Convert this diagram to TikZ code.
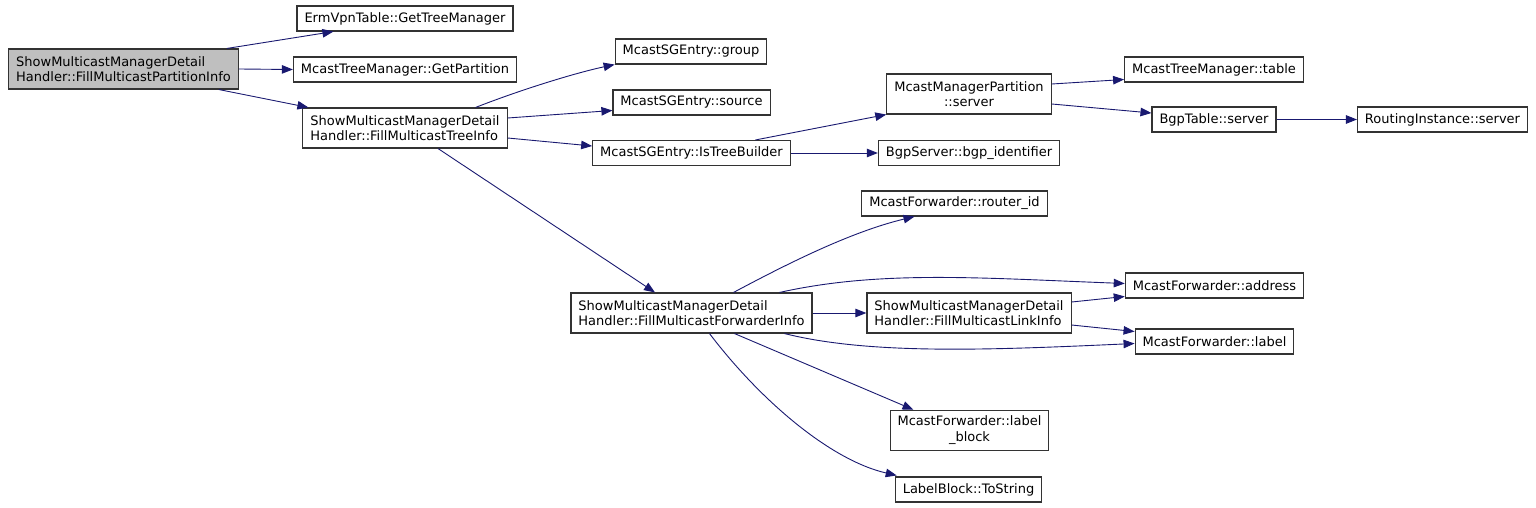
\documentclass[tikz,border=0pt]{standalone}
\usepackage{fontspec}
\setmainfont{DejaVu Sans}
\usetikzlibrary{arrows.meta,calc}
\definecolor{edgeblue}{HTML}{191970}
\definecolor{boxline}{HTML}{333333}
\definecolor{graybox}{HTML}{BFBFBF}
\begin{document}
\begin{tikzpicture}[x=1pt,y=-1pt,
  box/.style={draw=boxline,line width=1.1pt,fill=white,inner xsep=7.5pt,inner ysep=0pt,
    minimum height=25pt,align=center,font=\fontsize{13}{15.5}\selectfont},
  box2/.style={box,minimum height=40pt,align=left},
  edge/.style={draw=edgeblue,line width=0.9pt,-{Triangle[length=11pt,width=8.5pt]}}]
\useasboundingbox (0,0) rectangle (1536,508);
% nodes
\node[box2,fill=graybox] (A) at (123.5,69) {ShowMulticastManagerDetail\\Handler::FillMulticastPartitionInfo};
\node[box] (B) at (405,18.5) {ErmVpnTable::GetTreeManager};
\node[box] (C) at (405,69.5) {McastTreeManager::GetPartition};
\node[box2] (D) at (405,128) {ShowMulticastManagerDetail\\Handler::FillMulticastTreeInfo};
\node[box] (E) at (691,51.5) {McastSGEntry::group};
\node[box] (F) at (691.5,102.5) {McastSGEntry::source};
\node[box] (G) at (691.5,153) {McastSGEntry::IsTreeBuilder};
\node[box,minimum height=40pt] (H) at (969,94) {McastManagerPartition\\::server};
\node[box] (I) at (969,153) {BgpServer::bgp\_identifier};
\node[box] (J) at (1214,69.5) {McastTreeManager::table};
\node[box] (L) at (1214,119.5) {BgpTable::server};
\node[box] (M) at (1442.5,119.5) {RoutingInstance::server};
\node[box2] (K) at (691.5,313) {ShowMulticastManagerDetail\\Handler::FillMulticastForwarderInfo};
\node[box] (N) at (954.5,203.5) {McastForwarder::router\_id};
\node[box] (O) at (1214.5,285.5) {McastForwarder::address};
\node[box2] (P) at (969,313) {ShowMulticastManagerDetail\\Handler::FillMulticastLinkInfo};
\node[box] (Q) at (1214.5,341.5) {McastForwarder::label};
\node[box,minimum height=40pt] (R) at (969.5,430.3) {McastForwarder::label\\\_block};
\node[box] (S) at (968.5,489.5) {LabelBlock::ToString};
% edges
\draw[edge] ([xshift=-12]A.north east) -- ([xshift=37]B.south west);
\draw[edge] (A.east) -- (C.west);
\draw[edge] ([xshift=-20]A.south east) -- ([xshift=6]D.north west);
\draw[edge] ([xshift=-32]D.north east) .. controls (520,90) and (575,73) .. (E.south west);
\draw[edge] ([yshift=10]D.east) -- ([yshift=-8]F.west);
\draw[edge] ([yshift=-10]D.east) -- ([yshift=7]G.west);
\draw[edge] ([xshift=33]D.south) -- ([xshift=-36.5]K.north);
\draw[edge] ([xshift=64]G.north) -- (H.south west);
\draw[edge] (G.east) -- (I.west);
\draw[edge] ([yshift=10]H.east) -- ([yshift=-10]J.west);
\draw[edge] ([yshift=-10]H.east) -- ([yshift=6.5]L.west);
\draw[edge] (L.east) -- (M.west);
\draw[edge] ([xshift=42]K.north) .. controls (785,265) and (850,232) .. ([xshift=-40]N.south);
\draw[edge] ([xshift=88]K.north) .. controls (880,270) and (980,278) .. ([yshift=2]O.west);
\draw[edge] (K.east) -- (P.west);
\draw[edge] ([yshift=11]P.east) -- ([yshift=-11]O.west);
\draw[edge] ([yshift=-12]P.east) -- ([yshift=10]Q.west);
\draw[edge] ([xshift=93]K.south) .. controls (870,355) and (990,350) .. ([yshift=-2]Q.west);
\draw[edge] ([xshift=43]K.south) -- ([xshift=-56]R.north);
\draw[edge] ([xshift=18]K.south) .. controls (760,400) and (830,460) .. ([xshift=2,yshift=1]S.north west);
\end{tikzpicture}
\end{document}
